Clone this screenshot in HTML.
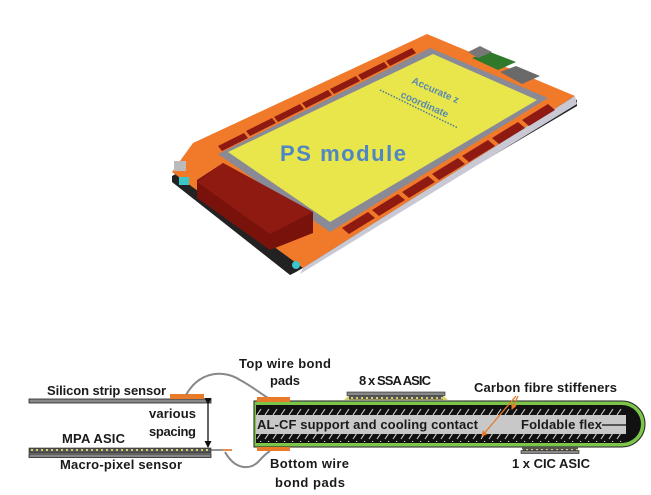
<!DOCTYPE html>
<html><head><meta charset="utf-8"><style>
html,body{margin:0;padding:0;background:#fff;}
svg{display:block;}
text{font-family:"Liberation Sans",sans-serif;}
.lb{font-size:13px;font-weight:bold;fill:#1a1a1a;}
</style></head><body>
<svg width="651" height="495" viewBox="0 0 651 495" xmlns="http://www.w3.org/2000/svg">
<defs>
<pattern id="hatch" width="8" height="8" patternUnits="userSpaceOnUse">
<rect width="8" height="8" fill="#111"/>
<line x1="1" y1="7" x2="5" y2="1" stroke="#ddd" stroke-width="1"/>
</pattern>
<pattern id="dots" width="5" height="4" patternUnits="userSpaceOnUse">
<rect width="5" height="4" fill="#555"/>
<rect x="1" y="1" width="2" height="2" fill="#d8d070"/>
</pattern>
<marker id="ah" markerUnits="userSpaceOnUse" markerWidth="7" markerHeight="7" refX="6" refY="3.5" orient="auto"><path d="M0,0 L7,3.5 L0,7 z" fill="#111"/></marker>
<marker id="oh" markerUnits="userSpaceOnUse" markerWidth="6" markerHeight="6" refX="5" refY="3" orient="auto"><path d="M0,0 L6,3 L0,6 z" fill="#e87a2a"/></marker>
</defs>

<g>
<polygon points="172,176 427,38 577,100 577,106 296,272 290,275 172,182" fill="#222"/>
<polygon points="172,172 193,143 427,34 575,96 303,268" fill="#f07a2a"/>
<polygon points="303,268 575,96 577,104 300,274" fill="#c9c9d6"/>
<polygon points="218,154 430,48 548,98 330,232" fill="#8a8a96"/>
<polygon points="228,152 433,54 537,100 330,222" fill="#e8e64a"/>
<g fill="#8e1a12">
<polygon points="218,146 244,133 248,138 222,151"/><polygon points="246,131 272,118 276,123 250,136"/>
<polygon points="274,117 300,104 304,109 278,122"/><polygon points="302,103 328,90 332,95 306,108"/>
<polygon points="330,89 356,76 360,81 334,94"/><polygon points="358,75 384,62 388,67 362,80"/>
<polygon points="386,61 412,48 416,53 390,66"/>
</g>
<g fill="#8e1a12">
<polygon points="342,228 368,212 375,218 349,234"/><polygon points="372,210 398,194 405,200 379,216"/>
<polygon points="402,192 428,176 435,182 409,198"/><polygon points="432,174 458,158 465,164 439,180"/>
<polygon points="462,156 488,140 495,146 469,162"/><polygon points="492,138 518,122 525,128 499,144"/>
<polygon points="522,120 548,104 555,110 529,126"/>
</g>
<polygon points="197,180 223,163 313,212 313,233 270,250 197,198" fill="#7a120c"/>
<polygon points="223,163 313,212 270,234 197,182" fill="#8e1a12"/>
<polygon points="472,58 490,52 516,62 498,70" fill="#2f7a2a"/>
<polygon points="500,72 516,66 540,76 522,84" fill="#6a6a6a"/>
<polygon points="468,52 480,46 492,52 478,58" fill="#777"/>
<rect x="179" y="177" width="10" height="8" fill="#3cc6c8"/>
<circle cx="296" cy="265" r="4" fill="#3cc6c8"/>
<rect x="174" y="161" width="12" height="10" fill="#bbb"/>
<line x1="380" y1="90" x2="458" y2="128" stroke="#4a7a9a" stroke-width="1.5" stroke-dasharray="1.5,1.5"/>
<text transform="translate(411,83) rotate(24)" font-size="10" font-weight="bold" fill="#5a8ab0">Accurate z</text>
<text transform="translate(400,97) rotate(24)" font-size="10" font-weight="bold" fill="#5a8ab0">coordinate</text>
<text x="280" y="161" font-size="22" font-weight="bold" fill="#4f86c6" textLength="126">PS module</text>
</g>

<g>
<rect x="29" y="399" width="182" height="4" fill="#888" stroke="#222" stroke-width="0.8"/>
<rect x="170" y="394" width="34" height="5" fill="#e87a2a"/>
<text class="lb" x="47" y="395" textLength="119">Silicon strip sensor</text>
<line x1="208" y1="404" x2="208" y2="447" stroke="#111" stroke-width="1.3" marker-start="url(#ah)" marker-end="url(#ah)" transform="translate(0,0)"/>
<text class="lb" x="149" y="418" textLength="47">various</text>
<text class="lb" x="149" y="436" textLength="47">spacing</text>
<rect x="29" y="448" width="182" height="5" fill="url(#dots)" stroke="#222" stroke-width="0.6"/>
<rect x="29" y="454" width="182" height="3.5" fill="#888" stroke="#222" stroke-width="0.8"/>
<line x1="211" y1="450" x2="232" y2="450" stroke="#555" stroke-width="1.2"/>
<line x1="222" y1="450" x2="232" y2="450" stroke="#e87a2a" stroke-width="1.5"/>
<text class="lb" x="62" y="443" textLength="63">MPA ASIC</text>
<text class="lb" x="60" y="469" textLength="122">Macro-pixel sensor</text>

<path d="M186,395 C200,370 225,370 240,380 C255,388 262,395 270,399" fill="none" stroke="#888" stroke-width="2"/>
<path d="M225,452 C235,470 250,470 258,462 C263,457 265,454 270,451" fill="none" stroke="#888" stroke-width="2"/>

<path d="M254,401 L622,401 A23,23 0 0 1 622,447 L254,447 Z" fill="#7cc44a" stroke="#222" stroke-width="1"/>
<path d="M256,405 L622,405 A19,19 0 0 1 622,443 L256,443 Z" fill="#111"/>
<rect x="256" y="407" width="368" height="8" fill="url(#hatch)"/>
<rect x="256" y="415" width="370" height="19" fill="#c8c8c8"/>
<rect x="256" y="434" width="368" height="8" fill="url(#hatch)"/>
<rect x="257" y="397" width="33" height="5" fill="#e87a2a"/>
<rect x="257" y="447" width="33" height="4" fill="#e87a2a"/>
<text class="lb" x="257" y="429" font-size="14" textLength="221">AL-CF support and cooling contact</text>
<text class="lb" x="521" y="429" font-size="14" textLength="81">Foldable flex</text>
<line x1="602" y1="425" x2="632" y2="425" stroke="#111" stroke-width="1.3" marker-end="url(#ah)"/>

<polygon points="344,400 348,396 444,396 448,400" fill="#d8d070"/>
<rect x="347" y="392" width="98" height="3.5" fill="#888" stroke="#222" stroke-width="0.6"/>
<rect x="349" y="395.5" width="94" height="4" fill="url(#dots)"/>
<text class="lb" x="359" y="385" textLength="72">8 x SSA ASIC</text>

<rect x="522" y="447" width="56" height="3.5" fill="url(#dots)"/>
<rect x="521" y="450.5" width="58" height="3" fill="#888" stroke="#222" stroke-width="0.6"/>
<text class="lb" x="512" y="468" textLength="78">1 x CIC ASIC</text>

<text class="lb" x="474" y="392" textLength="143">Carbon fibre stiffeners</text>
<line x1="518" y1="396" x2="512" y2="409" stroke="#e87a2a" stroke-width="1.3" marker-end="url(#oh)"/>
<line x1="516" y1="396" x2="482" y2="436" stroke="#e87a2a" stroke-width="1.3" marker-end="url(#oh)"/>

<text class="lb" x="239" y="368" textLength="92">Top wire bond</text>
<text class="lb" x="270" y="385" textLength="30">pads</text>
<text class="lb" x="270" y="468" textLength="79">Bottom wire</text>
<text class="lb" x="275" y="487" textLength="70">bond pads</text>
</g>
</svg>
</body></html>
